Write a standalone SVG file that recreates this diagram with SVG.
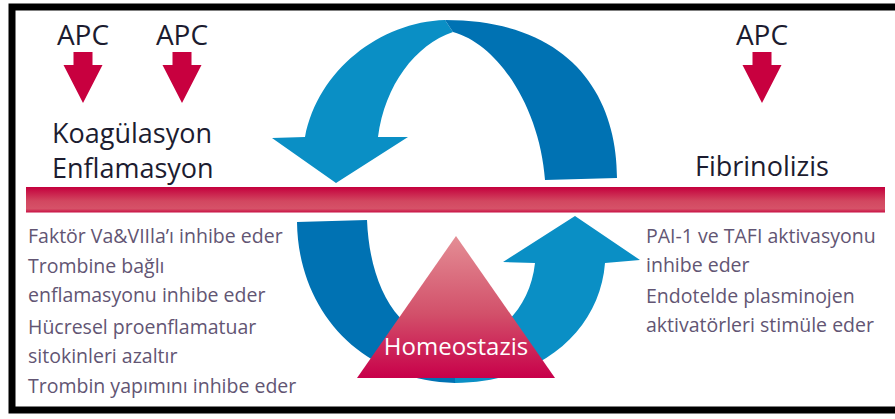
<svg xmlns="http://www.w3.org/2000/svg" width="895" height="419" viewBox="0 0 895 419">
  <defs>
    <linearGradient id="barGrad" x1="0" y1="0" x2="0" y2="1">
      <stop offset="0" stop-color="#c4003d"/>
      <stop offset="0.55" stop-color="#d24760"/>
      <stop offset="0.85" stop-color="#d65268"/>
      <stop offset="1" stop-color="#c80f44"/>
    </linearGradient>
    <linearGradient id="triGrad" x1="0" y1="0" x2="0" y2="1">
      <stop offset="0" stop-color="#e48e95"/>
      <stop offset="0.55" stop-color="#d2506a"/>
      <stop offset="1" stop-color="#c8004a"/>
    </linearGradient>
    <path id="downArrow" d="M -9.5 52 H 9.5 V 65 H 19.5 L 0 103 L -19.5 65 H -9.5 Z"/>
    <style>
      .lbl { font-family: "Open Sans", "Noto Sans", sans-serif; fill: #1c1c30; font-weight: 500; }
      .apc { font-size: 28px; text-anchor: middle; }
      .head { font-size: 27px; }
      .desc { font-family: "Open Sans", "Noto Sans", sans-serif; font-size: 19.5px; fill: #625573; }
      .red { fill: #c8003f; }
      .light { fill: #0a8fc5; }
      .dark { fill: #0072b3; }
    </style>
  </defs>
  <rect width="895" height="419" fill="#ffffff"/>
  <rect x="12" y="7" width="900" height="403" fill="none" stroke="#000000" stroke-width="7"/>

  <g id="connectors">
    <g id="top-arc">
      <path class="light" d="M 445 20 C 380 22 318 70 305 137 L 272 138 L 336 183 L 408 137 L 378 137 C 385 85 415 45 453 32 Z"/>
      <path class="dark" d="M 617 178 C 617 95 570 20 445 20 L 453 32 C 500 45 540 110 545 180 Z"/>
    </g>
    <g id="bottom-arc">
      <path class="dark" d="M 297 222 L 367 220 C 370 290 400 340 455 345 L 455 383 C 360 380 298 310 297 222 Z"/>
      <path class="light" d="M 455 345 C 495 343 530 310 535 263 L 503 262 L 575 216 L 640 260 L 605 263 C 600 330 540 383 455 383 Z"/>
    </g>
    <use href="#downArrow" class="red" x="83" y="0"/>
    <use href="#downArrow" class="red" x="182" y="0"/>
    <use href="#downArrow" class="red" x="762" y="0"/>
  </g>

  <g id="bar">
    <rect x="26" y="187" width="859" height="25.5" fill="url(#barGrad)"/>
  </g>

  <g id="apc1"><text class="lbl apc" x="83" y="45">APC</text></g>
  <g id="apc2"><text class="lbl apc" x="182" y="45">APC</text></g>
  <g id="apc3"><text class="lbl apc" x="762" y="45">APC</text></g>

  <g id="koagulasyon">
    <text class="lbl head" x="52" y="143">Koagülasyon</text>
    <text class="lbl head" x="52" y="178">Enflamasyon</text>
  </g>
  <g id="fibrinolizis">
    <text class="lbl head" x="695" y="176">Fibrinolizis</text>
  </g>

  <g id="homeostazis">
    <polygon points="456,236 357,378 555,378" fill="url(#triGrad)"/>
    <text x="456" y="355" text-anchor="middle" font-family="Open Sans, Noto Sans, sans-serif" font-size="24" font-weight="500" fill="#ffffff">Homeostazis</text>
  </g>

  <g id="left-effects">
    <text class="desc" x="28" y="243">Faktör Va&amp;VIIla’ı inhibe eder</text>
    <text class="desc" x="28" y="273">Trombine bağlı</text>
    <text class="desc" x="28" y="302">enflamasyonu inhibe eder</text>
    <text class="desc" x="28" y="334">Hücresel proenflamatuar</text>
    <text class="desc" x="28" y="363">sitokinleri azaltır</text>
    <text class="desc" x="28" y="393">Trombin yapımını inhibe eder</text>
  </g>

  <g id="right-effects">
    <text class="desc" x="646" y="243">PAI-1 ve TAFI aktivasyonu</text>
    <text class="desc" x="646" y="272">inhibe eder</text>
    <text class="desc" x="646" y="303">Endotelde plasminojen</text>
    <text class="desc" x="646" y="332">aktivatörleri stimüle eder</text>
  </g>
</svg>
